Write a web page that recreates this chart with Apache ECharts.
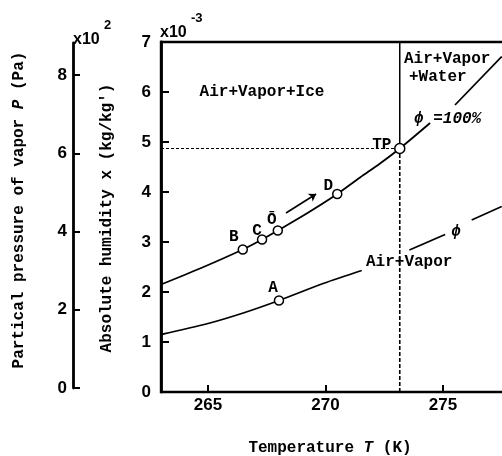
<!DOCTYPE html>
<html>
<head>
<meta charset="utf-8">
<script src="https://cdn.jsdelivr.net/npm/echarts@6/dist/echarts.min.js"></script>
<style>
  html, body { margin: 0; padding: 0; background: #fff; }
  #chart { width: 502px; height: 456px; }
</style>
</head>
<body>
<div id="chart"></div>
<script>
// Temperature ticks (K) and axis ranges
const tempTicks = [265, 270, 275];
const humidityTicks = [0, 1, 2, 3, 4, 5, 6, 7];
const pressureTicks = [0, 200, 400, 600, 800];

// Saturation curve (phi = 100%), [T (K), x (x10^-3 kg/kg')], split where the label sits
const satCurveIce = [[263, 2.15], [264.66, 2.47], [266.48, 2.85], [267.30, 3.05], [267.97, 3.23],
  [269.2, 3.57], [270.5, 3.96], [271.47, 4.29], [272.32, 4.57], [273.16, 4.87], [274.45, 5.38]];
const satCurveWater = [[275.51, 5.74], [277.5, 6.71]];

// Partial-saturation curve (phi < 100%), split around its labels
const phiCurveA = [[263, 1.15], [265, 1.37], [266.5, 1.58], [268.02, 1.83], [269.9, 2.17], [271.54, 2.43]];
const phiCurveB = [[273.57, 2.84], [275.09, 3.15]];
const phiCurveC = [[276.22, 3.44], [277.5, 3.71]];

// Named state points
const stateNames = ['B', 'C', 'Ō', 'D', 'A'];
const statePoints = [[266.48, 2.85], [267.30, 3.05], [267.97, 3.23], [270.5, 3.96], [268.02, 1.83]];
const stateLabelOffsets = [[-9, -13], [-5, -9], [-6, -11], [-9, -8], [-6, -13]];

// Triple point
const triplePoint = [273.16, 4.87];
const triplePointText = '(273.16K,610.5Pa)';

// Process direction arrow
const arrowPath = [[268.32, 3.58], [269.6, 3.96]];

const FONT = '"Liberation Mono", "DejaVu Sans Mono", monospace';
const NUM_FONT = '"Liberation Sans", Arial, sans-serif';
const black = '#000';

function txt(text, x, y, opts) {
  return Object.assign({
    type: 'text', x: x, y: y, z: 100,
    style: Object.assign({
      text: text, fill: black, fontFamily: FONT, fontWeight: 'bold', fontSize: 16,
      textAlign: 'left', textVerticalAlign: 'middle'
    }, (opts && opts.style) || {})
  }, (opts && opts.el) || {});
}

function curve(data) {
  return {
    type: 'line', xAxisIndex: 0, yAxisIndex: 0, data: data, smooth: 0.3,
    showSymbol: false, symbol: 'none', silent: true,
    lineStyle: { color: black, width: 1.8 }, z: 3
  };
}

const chart = echarts.init(document.getElementById('chart'), null, { renderer: 'canvas' });

chart.setOption({
  animation: false,
  backgroundColor: '#fff',
  grid: [
    { left: 161, top: 42, width: 352.5, height: 350, show: true, borderColor: black, borderWidth: 2.4,
      backgroundColor: 'transparent', outerBoundsMode: 'none', containLabel: false },
    { left: 73, top: 43, width: 10, height: 345, show: false, outerBoundsMode: 'none', containLabel: false }
  ],
  xAxis: [
    {
      gridIndex: 0, type: 'value', min: 263, max: 278,
      axisLine: { show: true, lineStyle: { color: black, width: 2.2 } },
      axisTick: { show: true, inside: true, length: 7, customValues: tempTicks, lineStyle: { color: black, width: 2 } },
      axisLabel: { show: true, customValues: tempTicks, margin: 5, color: black,
        fontFamily: NUM_FONT, fontWeight: 'bold', fontSize: 17 },
      splitLine: { show: false }
    },
    { gridIndex: 1, type: 'value', show: false, min: 0, max: 1 }
  ],
  yAxis: [
    {
      gridIndex: 0, type: 'value', min: 0, max: 7, interval: 1,
      axisLine: { show: true, lineStyle: { color: black, width: 2.8 } },
      axisTick: { show: true, inside: true, length: 8, customValues: humidityTicks, lineStyle: { color: black, width: 2 } },
      axisLabel: { show: true, customValues: humidityTicks, margin: 10, color: black,
        fontFamily: NUM_FONT, fontWeight: 'bold', fontSize: 17 },
      splitLine: { show: false }
    },
    {
      gridIndex: 1, type: 'value', min: 0, max: 882,
      axisLine: { show: true, lineStyle: { color: black, width: 2.8 } },
      axisTick: { show: true, inside: true, length: 7, customValues: pressureTicks, lineStyle: { color: black, width: 2 } },
      axisLabel: { show: true, customValues: pressureTicks, margin: 6, color: black,
        fontFamily: NUM_FONT, fontWeight: 'bold', fontSize: 17,
        formatter: function (v) { return String(v / 100); } },
      splitLine: { show: false }
    }
  ],
  series: [
    curve(satCurveIce),
    curve(satCurveWater),
    curve(phiCurveA),
    curve(phiCurveB),
    curve(phiCurveC),
    // Triple-point guide lines
    {
      type: 'line', xAxisIndex: 0, yAxisIndex: 0, symbol: 'none', silent: true, z: 2,
      data: [[263, triplePoint[1]], triplePoint],
      lineStyle: { color: black, width: 1.2, type: [3, 2] }
    },
    {
      type: 'line', xAxisIndex: 0, yAxisIndex: 0, symbol: 'none', silent: true, z: 2,
      data: [[triplePoint[0], 0], triplePoint],
      lineStyle: { color: black, width: 1.6, type: [4, 2] }
    },
    {
      type: 'line', xAxisIndex: 0, yAxisIndex: 0, symbol: 'none', silent: true, z: 2,
      data: [triplePoint, [triplePoint[0], 7]],
      lineStyle: { color: black, width: 1.5 }
    },
    // Direction of the process
    {
      type: 'lines', coordinateSystem: 'cartesian2d', xAxisIndex: 0, yAxisIndex: 0, silent: true, z: 4,
      symbol: ['none', 'arrow'], symbolSize: 7,
      lineStyle: { color: black, width: 1.6, curveness: 0, opacity: 1 },
      data: [{ coords: arrowPath }]
    },
    // State points with their letters
    {
      type: 'scatter', xAxisIndex: 0, yAxisIndex: 0, silent: true, z: 5,
      symbol: 'circle', symbolSize: 9,
      itemStyle: { color: '#fff', borderColor: black, borderWidth: 1.5, opacity: 1 },
      data: statePoints.map(function (p, i) {
        return {
          value: p, name: stateNames[i],
          label: { show: true, position: 'inside', offset: stateLabelOffsets[i], formatter: stateNames[i],
            color: black, fontFamily: FONT, fontWeight: 'bold', fontSize: 16 }
        };
      })
    },
    // Triple point
    {
      type: 'scatter', xAxisIndex: 0, yAxisIndex: 0, silent: true, z: 6,
      symbol: 'circle', symbolSize: 10,
      itemStyle: { color: '#fff', borderColor: black, borderWidth: 1.5, opacity: 1 },
      data: [{
        value: triplePoint,
        label: { show: true, position: 'inside', offset: [-18, -4], formatter: 'TP',
          color: black, fontFamily: FONT, fontWeight: 'bold', fontSize: 16 }
      }]
    },
    {
      type: 'scatter', xAxisIndex: 0, yAxisIndex: 0, silent: true, z: 6,
      symbol: 'none', symbolSize: 0,
      data: [{
        value: triplePoint,
        label: { show: true, position: 'inside', offset: [-19, 18], align: 'left', formatter: triplePointText,
          color: black, fontFamily: FONT, fontWeight: 'bold', fontSize: 13 }
      }]
    }
  ],
  graphic: [
    // Region labels
    txt('Air+Vapor+Ice', 262, 92, { style: { textAlign: 'center' } }),
    txt('Air+Vapor', 404, 59),
    txt('+Water', 409, 77),
    txt('ϕ =100%', 414, 119, { style: { fontStyle: 'italic' } }),
    txt('Air+Vapor', 366, 262),
    txt('ϕ', 456, 232, { style: { textAlign: 'center', fontStyle: 'italic' } }),
    // Exponent markers
    txt('x10', 160, 33, { style: { fontFamily: NUM_FONT, fontSize: 16 } }),
    txt('-3', 191, 18, { style: { fontFamily: NUM_FONT, fontSize: 13 } }),
    txt('x10', 73, 40, { style: { fontFamily: NUM_FONT, fontSize: 16 } }),
    txt('2', 104, 25, { style: { fontFamily: NUM_FONT, fontSize: 13 } }),
    // Axis titles
    {
      type: 'text', x: 19, y: 210, rotation: Math.PI / 2, z: 100,
      style: {
        text: '{n|Partical pressure of vapor }{i|P}{n| (Pa)}',
        textAlign: 'center', textVerticalAlign: 'middle', fill: black,
        rich: {
          n: { fontFamily: FONT, fontWeight: 'bold', fontSize: 16, fill: black },
          i: { fontFamily: FONT, fontWeight: 'bold', fontStyle: 'italic', fontSize: 16, fill: black }
        }
      }
    },
    {
      type: 'text', x: 107, y: 218, rotation: Math.PI / 2, z: 100,
      style: {
        text: "Absolute humidity x (kg/kg')",
        textAlign: 'center', textVerticalAlign: 'middle', fill: black,
        fontFamily: FONT, fontWeight: 'bold', fontSize: 16
      }
    },
    {
      type: 'text', x: 330, y: 448, z: 100,
      style: {
        text: '{n|Temperature }{i|T}{n| (K)}',
        textAlign: 'center', textVerticalAlign: 'middle', fill: black,
        rich: {
          n: { fontFamily: FONT, fontWeight: 'bold', fontSize: 16, fill: black },
          i: { fontFamily: FONT, fontWeight: 'bold', fontStyle: 'italic', fontSize: 16, fill: black }
        }
      }
    }
  ]
});
</script>
</body>
</html>
